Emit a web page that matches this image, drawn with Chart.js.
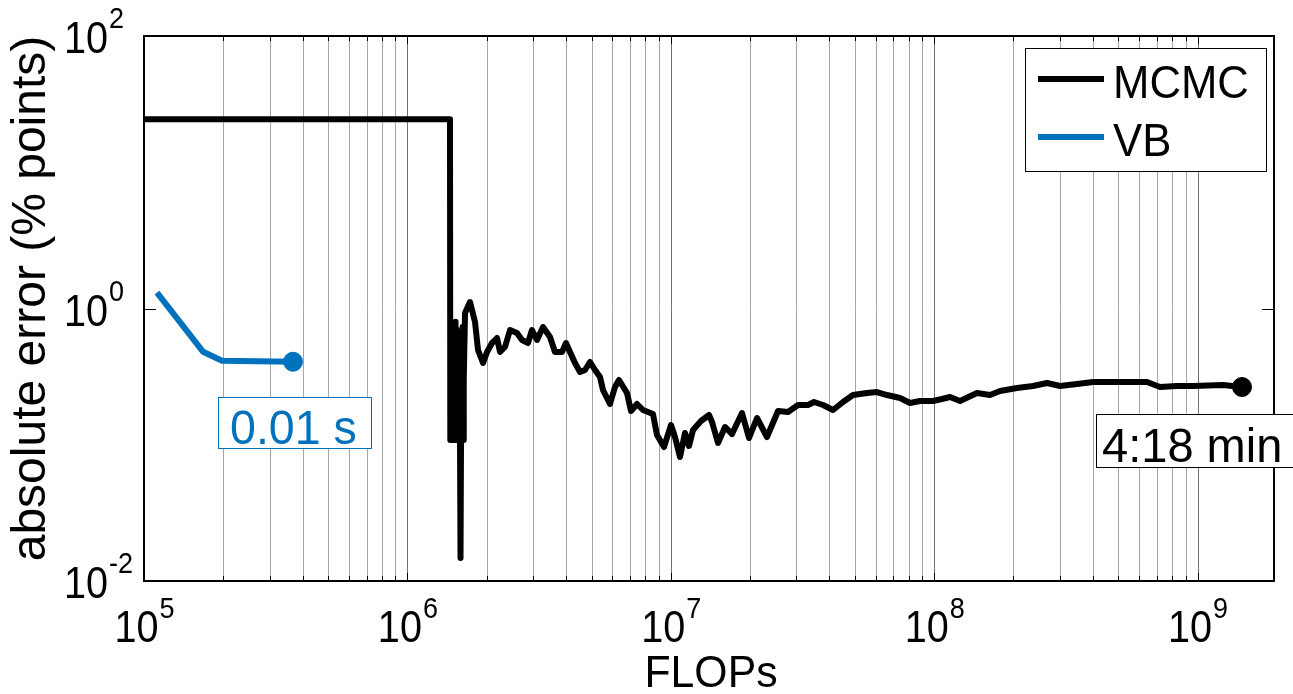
<!DOCTYPE html>
<html><head><meta charset="utf-8">
<script src="https://cdn.jsdelivr.net/npm/chart.js@4.4.1/dist/chart.umd.min.js"></script>
<style>html,body{margin:0;padding:0;background:#fff;overflow:hidden}#wrap{width:1293px;height:694px;position:relative}</style>
</head><body><div id="wrap"><canvas id="c"></canvas></div>
<script>
// ---- data ----
const mcmcFlops = [1.0e5,1.451e6,1.455e6,1.458e6,1.464e6,1.470e6,1.476e6,1.483e6,1.490e6,1.496e6,1.503e6,1.510e6,1.516e6,1.523e6,1.530e6,1.536e6,1.543e6,1.550e6,1.556e6,1.563e6,1.570e6,1.577e6,1.584e6,1.591e6,1.598e6,1.605e6,1.612e6,1.619e6,1.626e6,1.633e6,1.640e6,1.655e6,1.728e6,1.806e6,1.854e6,1.937e6,2.006e6,2.095e6,2.189e6,2.247e6,2.347e6,2.452e6,2.607e6,2.723e6,2.870e6,2.972e6,3.105e6,3.272e6,3.478e6,3.633e6,3.863e6,4.001e6,4.143e6,4.328e6,4.522e6,4.724e6,4.935e6,5.155e6,5.386e6,5.528e6,5.877e6,6.139e6,6.357e6,6.819e6,7.061e6,7.442e6,7.842e6,8.557e6,8.861e6,9.423e6,1.0018e7,1.0374e7,1.0838e7,1.1323e7,1.1726e7,1.2143e7,1.3023e7,1.3966e7,1.4337e7,1.5109e7,1.6061e7,1.7075e7,1.8635e7,1.9812e7,2.1246e7,2.3183e7,2.5527e7,2.7864e7,3.0410e7,3.3185e7,3.4972e7,3.7834e7,4.1288e7,4.5058e7,4.9172e7,5.5566e7,6.0640e7,6.6177e7,7.4159e7,8.0930e7,8.8321e7,9.8956e7,1.0706e8,1.1482e8,1.2530e8,1.4540e8,1.6291e8,1.7775e8,2.0625e8,2.3724e8,2.6806e8,3.0036e8,3.4847e8,4.0085e8,4.9431e8,6.4268e8,7.1989e8,8.3510e8,9.6041e8,1.2488e9,1.4743e9];
const mcmcError = [24.47,24.47,0.1084,0.72,0.1084,0.69,0.1084,0.70,0.1084,0.75,0.1084,0.78,0.1084,0.80,0.1084,0.70,0.1084,0.62,0.1084,0.59,0.1084,0.55,0.1084,0.01475,0.1084,0.65,0.1084,0.73,0.1084,0.60,0.30,0.9268,1.116,0.7961,0.4959,0.3981,0.4795,0.5582,0.6074,0.4795,0.5218,0.6953,0.6608,0.5873,0.5582,0.6953,0.5873,0.7314,0.6177,0.4795,0.4795,0.5582,0.4795,0.3981,0.3420,0.3537,0.4048,0.3537,0.3142,0.2522,0.1991,0.2653,0.2987,0.2397,0.1769,0.1991,0.1799,0.1681,0.1179,0.09627,0.1396,0.1140,0.08130,0.1220,0.09791,0.1283,0.1494,0.1653,0.1469,0.1030,0.1350,0.1199,0.1710,0.1121,0.1571,0.1140,0.1769,0.1739,0.1957,0.1957,0.2060,0.1957,0.1799,0.2060,0.2318,0.2397,0.2438,0.2318,0.2203,0.2025,0.2095,0.2095,0.2167,0.2241,0.2095,0.2397,0.2318,0.2480,0.2609,0.2699,0.2839,0.2699,0.2792,0.2888,0.2888,0.2888,0.2653,0.2699,0.2699,0.2745,0.2653];
const vbFlops = [1.1204e5,1.6748e5,1.9779e5,3.6786e5];
const vbError = [1.3059,0.4818,0.4139,0.4069];
const seriesNames = ['MCMC','VB'];
const seriesColors = ['#000000','#0072BD'];
const endLabels = ['4:18 min','0.01 s'];
const xTickExps = ['5','6','7','8','9'];
const yTickExps = ['-2','0','2'];
const gridMultipliers = [1,2,3,4,5,6,7,8,9];
const xTitle = 'FLOPs';
const yTitle = 'absolute error (% points)';

const FONT = '"Liberation Sans", Arial, Helvetica, sans-serif';
function txt(ctx, s, x, y, px, align, k, color){
  ctx.save();
  ctx.font = px + 'px ' + FONT;
  ctx.fillStyle = color || '#000';
  ctx.textBaseline = 'alphabetic';
  ctx.textAlign = 'left';
  const w = ctx.measureText(s).width * k;
  let x0 = x;
  if (align === 'center') x0 = x - w/2; else if (align === 'right') x0 = x - w;
  ctx.translate(x0, y); ctx.scale(k, 1);
  ctx.fillText(s, 0, 0);
  ctx.restore();
  return w;
}
function tw(ctx, s, px, k){ ctx.save(); ctx.font = px + 'px ' + FONT; const w = ctx.measureText(s).width*k; ctx.restore(); return w; }

const gridPlugin = {
  id:'gridPlugin',
  beforeDatasetsDraw(chart){
    const ctx = chart.ctx, a = chart.chartArea, xs = chart.scales.x;
    ctx.save();
    ctx.lineWidth = 1;
    xTickExps.concat(['4']).forEach(e => {
      gridMultipliers.forEach(m => {
        const v = m * Math.pow(10, +e);
        if (v < xs.min || v > xs.max) return;
        const p = Math.round(xs.getPixelForValue(v)) + 0.5;
        ctx.strokeStyle = m === 1 ? '#707070' : '#a6a6a6';
        ctx.beginPath(); ctx.moveTo(p, a.top); ctx.lineTo(p, a.bottom); ctx.stroke();
        ctx.strokeStyle = '#000';
        const L = m === 1 ? 8 : 5;
        ctx.beginPath(); ctx.moveTo(p, a.bottom); ctx.lineTo(p, a.bottom - L); ctx.stroke();
        ctx.beginPath(); ctx.moveTo(p, a.top); ctx.lineTo(p, a.top + L); ctx.stroke();
      });
    });
    ctx.restore();
  }
};

const decorPlugin = {
  id:'decorPlugin',
  afterDatasetsDraw(chart){
    const ctx = chart.ctx, a = chart.chartArea, xs = chart.scales.x, ys = chart.scales.y;
    ctx.save();
    ctx.strokeStyle = '#000'; ctx.lineWidth = 1;
    yTickExps.forEach(e => {
      const p = Math.round(ys.getPixelForValue(Math.pow(10, +e))) + 0.5;
      ctx.beginPath(); ctx.moveTo(a.left, p); ctx.lineTo(a.left + 12, p); ctx.stroke();
      ctx.beginPath(); ctx.moveTo(a.right, p); ctx.lineTo(a.right - 12, p); ctx.stroke();
    });
    ctx.lineWidth = 2;
    ctx.strokeRect(a.left, a.top, a.right - a.left, a.bottom - a.top);
    xTickExps.forEach(e => {
      const p = xs.getPixelForValue(Math.pow(10, +e));
      const w1 = tw(ctx, '10', 44, 0.9), w2 = tw(ctx, e, 30, 0.9);
      const s = p - (w1 + w2) / 2;
      txt(ctx, '10', s, a.bottom + 61, 44, 'left', 0.9);
      txt(ctx, e, s + w1 + 1, a.bottom + 37, 30, 'left', 0.9);
    });
    yTickExps.forEach(e => {
      const p = ys.getPixelForValue(Math.pow(10, +e));
      const w1 = tw(ctx, '10', 44, 0.9);
      txt(ctx, '10', 64, p + 17, 44, 'left', 0.9);
      txt(ctx, e, 64 + w1 + 1, p - 8, 30, 'left', 0.9);
    });
    txt(ctx, xTitle, (a.left + a.right) / 2 + 2, 687, 45, 'center', 0.95);
    ctx.save();
    ctx.translate(45, (a.top + a.bottom) / 2 - 10);
    ctx.rotate(-Math.PI / 2);
    txt(ctx, yTitle, 0, 0, 48, 'center', 1.0);
    ctx.restore();
    const lx = 1025, ly = 48, lw = 241, lh = 123;
    ctx.fillStyle = '#fff'; ctx.fillRect(lx, ly, lw, lh);
    ctx.strokeStyle = '#000'; ctx.lineWidth = 1;
    ctx.strokeRect(lx + 0.5, ly + 0.5, lw, lh);
    chart.data.datasets.forEach((d, i) => {
      const yy = ly + 31 + i * 58;
      ctx.strokeStyle = d.borderColor; ctx.lineWidth = 6; ctx.lineCap = 'butt';
      ctx.beginPath(); ctx.moveTo(lx + 13, yy); ctx.lineTo(lx + 79, yy); ctx.stroke();
      txt(ctx, d.label, lx + 88, yy + 19, 46, 'left', 0.95);
    });
    const m0 = chart.getDatasetMeta(0).data; const e0 = m0[m0.length - 1];
    const m1 = chart.getDatasetMeta(1).data; const e1 = m1[m1.length - 1];
    let bx = Math.round(e0.x) - 146, by = Math.round(e0.y) + 27;
    ctx.fillStyle = '#fff'; ctx.fillRect(bx, by, 220, 53);
    ctx.strokeStyle = '#000'; ctx.lineWidth = 1; ctx.strokeRect(bx + 0.5, by + 0.5, 220, 53);
    txt(ctx, endLabels[0], bx + 6, by + 48, 49, 'left', 0.96, '#000');
    bx = Math.round(e1.x) - 75; by = Math.round(e1.y) + 35;
    ctx.fillStyle = '#fff'; ctx.fillRect(bx, by, 153, 51);
    ctx.strokeStyle = seriesColors[1]; ctx.lineWidth = 1; ctx.strokeRect(bx + 0.5, by + 0.5, 153, 51);
    txt(ctx, endLabels[1], bx + 12, by + 47, 48, 'left', 0.97, seriesColors[1]);
    ctx.restore();
  }
};

function pts(xa, ya){ return xa.map((x, i) => ({x: x, y: ya[i]})); }

new Chart(document.getElementById('c'), {
  type: 'scatter',
  data: { datasets: [
    { label: seriesNames[0], data: pts(mcmcFlops, mcmcError), showLine: true, borderColor: seriesColors[0], backgroundColor: seriesColors[0],
      borderWidth: 6, tension: 0, borderJoinStyle: 'round',
      pointRadius: c => c.dataIndex === mcmcFlops.length - 1 ? 9.5 : 0, pointBorderWidth: 1, pointHoverRadius: 0 },
    { label: seriesNames[1], data: pts(vbFlops, vbError), showLine: true, borderColor: seriesColors[1], backgroundColor: seriesColors[1],
      borderWidth: 6, tension: 0, borderJoinStyle: 'round',
      pointRadius: c => c.dataIndex === vbFlops.length - 1 ? 9.5 : 0, pointBorderWidth: 1, pointHoverRadius: 0 }
  ]},
  options: {
    responsive: true, maintainAspectRatio: false, animation: false, devicePixelRatio: 1, events: [],
    layout: { padding: { top: 36, right: 19, left: 0, bottom: 0 } },
    plugins: { legend: { display: false }, tooltip: { enabled: false } },
    scales: {
      x: { type: 'logarithmic', min: 1e5, max: 1.95e9, grid: { display: false }, border: { display: false },
           ticks: { display: false }, afterFit: s => { s.height = 113; } },
      y: { type: 'logarithmic', min: 1e-2, max: 1e2, grid: { display: false }, border: { display: false },
           ticks: { display: false }, afterFit: s => { s.width = 144; } }
    }
  },
  plugins: [gridPlugin, decorPlugin]
});
</script></body></html>
